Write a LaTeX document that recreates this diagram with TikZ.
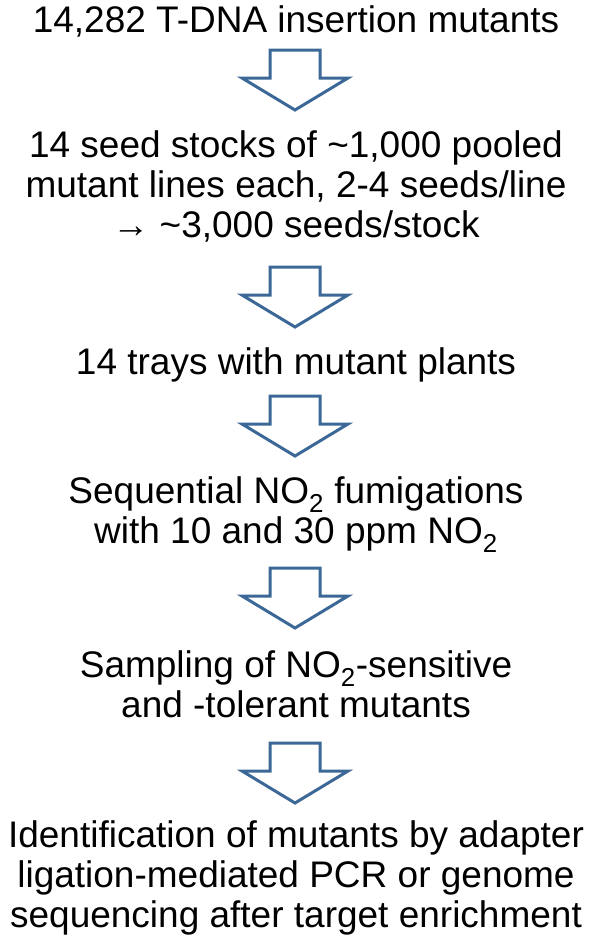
\documentclass[tikz,border=0pt]{standalone}
\usepackage{fontspec}
\setmainfont{Liberation Sans}
\definecolor{arrowblue}{RGB}{60,104,152}
\tikzset{
  txt/.style={font=\fontsize{37}{40}\selectfont, align=center, anchor=base, inner sep=0pt, text=black},
  arrowline/.style={draw=arrowblue, line width=3pt, fill=white, line join=miter},
  blockarrow/.pic={
    \path[arrowline] (-25,0) -- (25,0) -- (25,-28) -- (53,-28) -- (0,-60) -- (-53,-28) -- (-25,-28) -- cycle;
  }
}
\begin{document}
\begin{tikzpicture}[x=1pt,y=1pt]
\useasboundingbox (0,0) rectangle (596,-951);
% base anchor of a multi-line node = baseline of its last line
\node[txt] (t1) at (296,-32) {14,282 T-DNA insertion mutants};
\node[txt] (t2) at (296,-237) {14 seed stocks of \textasciitilde1,000 pooled\\mutant lines each, 2-4 seeds/line\\→ \textasciitilde3,000 seeds/stock};
\node[txt] (t3) at (296,-374) {14 trays with mutant plants};
\node[txt] (t4) at (296,-543) {Sequential NO\textsubscript{2} fumigations\\with 10 and 30 ppm NO\textsubscript{2}};
\node[txt] (t5) at (296,-717) {Sampling of NO\textsubscript{2}-sensitive\\and -tolerant mutants};
\node[txt] (t6) at (296,-927) {Identification of mutants by adapter\\ligation-mediated PCR or genome\\sequencing after target enrichment};
\coordinate (a1) at (295,-50);
\coordinate (a2) at (295,-267);
\coordinate (a3) at (295,-396);
\coordinate (a4) at (295,-568);
\coordinate (a5) at (295,-743);
\pic at (a1) {blockarrow};
\pic at (a2) {blockarrow};
\pic at (a3) {blockarrow};
\pic at (a4) {blockarrow};
\pic at (a5) {blockarrow};
\end{tikzpicture}
\end{document}
